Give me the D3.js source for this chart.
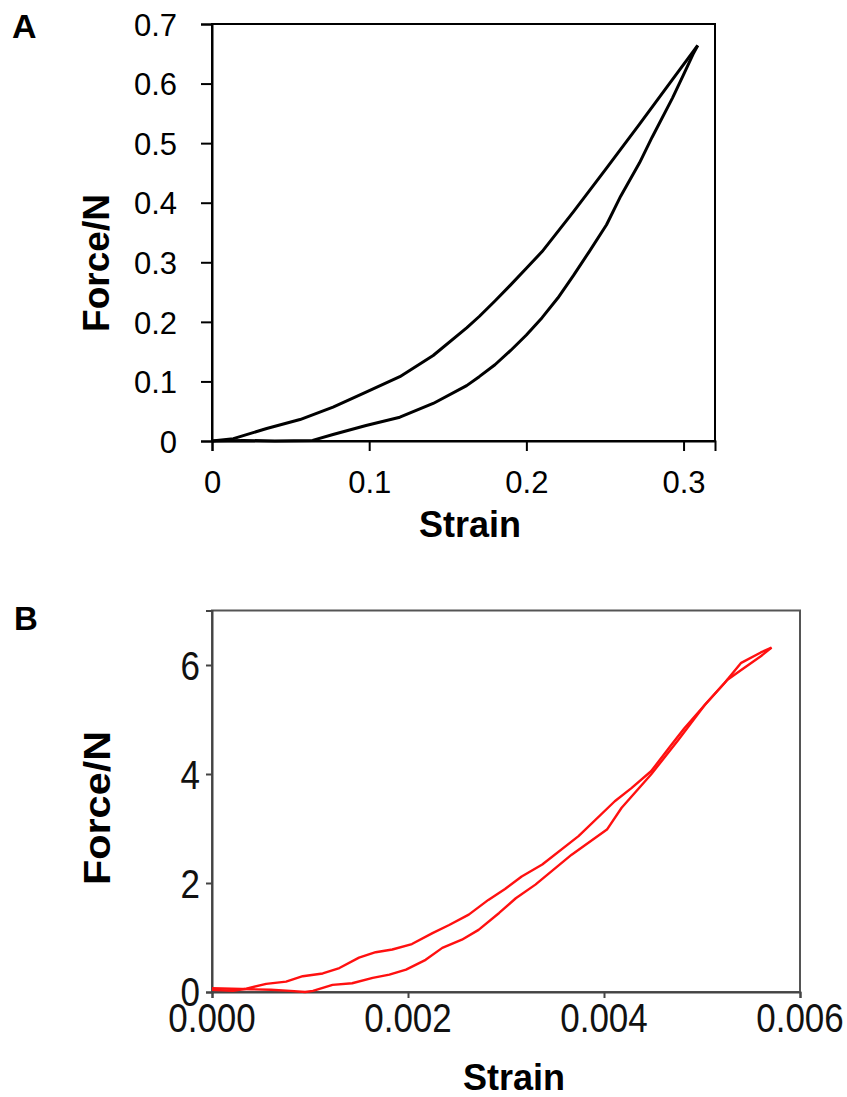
<!DOCTYPE html>
<html><head><meta charset="utf-8">
<script src="https://cdn.jsdelivr.net/npm/d3@7"></script>
<style>body{margin:0;background:#fff}svg{display:block}text{font-family:"Liberation Sans",Arial,sans-serif}</style>
</head><body><svg id="c" width="847" height="1097"></svg>
<script>
// Panel A data (black curves)
const strainAUpper = [0, 0.0136, 0.0348, 0.056, 0.077, 0.098, 0.1195, 0.1407, 0.162, 0.170, 0.18, 0.19, 0.20, 0.21, 0.23, 0.251, 0.272, 0.293, 0.309];
const forceAUpper  = [0, 0.004, 0.021, 0.036, 0.057, 0.082, 0.108, 0.1435, 0.190, 0.209, 0.235, 0.262, 0.290, 0.318, 0.385, 0.458, 0.532, 0.607, 0.664];
const strainALower = [0, 0.02, 0.04, 0.064, 0.077, 0.098, 0.1195, 0.1407, 0.162, 0.170, 0.18, 0.19, 0.20, 0.21, 0.22, 0.23, 0.24, 0.251, 0.26, 0.272, 0.28, 0.293, 0.30, 0.306, 0.309];
const forceALower  = [0, 0.001, 0.0, 0.001, 0.011, 0.026, 0.040, 0.063, 0.093, 0.108, 0.128, 0.152, 0.178, 0.207, 0.240, 0.278, 0.318, 0.363, 0.411, 0.467, 0.510, 0.576, 0.615, 0.649, 0.664];
const ticksAX = [0, 0.1, 0.2, 0.3];
const ticksAY = [0, 0.1, 0.2, 0.3, 0.4, 0.5, 0.6, 0.7];
const labelsAX = ["0", "0.1", "0.2", "0.3"];
const labelsAY = ["0", "0.1", "0.2", "0.3", "0.4", "0.5", "0.6", "0.7"];

// Panel B data (red curves)
const strainBUpper = [0, 0.000214, 0.00035, 0.000553, 0.000756, 0.000926, 0.00113, 0.0013, 0.0015, 0.00167, 0.00184, 0.00204, 0.00225, 0.00242, 0.00262, 0.00282, 0.00299, 0.00316, 0.00337, 0.00374, 0.00411, 0.00428, 0.00448, 0.00469, 0.00482, 0.00503, 0.00523, 0.0054, 0.0056, 0.00571];
const forceBUpper  = [0.04, 0.02, 0.06, 0.15, 0.19, 0.29, 0.34, 0.44, 0.63, 0.73, 0.78, 0.88, 1.08, 1.23, 1.42, 1.69, 1.89, 2.12, 2.34, 2.86, 3.50, 3.74, 4.05, 4.54, 4.84, 5.27, 5.67, 6.04, 6.23, 6.32];
const strainBLower = [0, 0.0002, 0.0004, 0.0006, 0.0008, 0.00095, 0.00103, 0.00123, 0.00143, 0.00164, 0.00181, 0.00198, 0.00218, 0.00235, 0.00255, 0.00272, 0.00293, 0.0031, 0.0033, 0.00367, 0.00403, 0.00418, 0.00448, 0.00476, 0.00503, 0.00526, 0.0054, 0.0056, 0.00571];
const forceBLower  = [0.07, 0.06, 0.05, 0.04, 0.02, 0.0, 0.02, 0.13, 0.16, 0.26, 0.32, 0.41, 0.59, 0.81, 0.96, 1.14, 1.45, 1.72, 1.97, 2.52, 2.98, 3.38, 3.99, 4.63, 5.27, 5.73, 5.91, 6.16, 6.32];
const ticksBX = [0, 0.002, 0.004, 0.006];
const ticksBY = [0, 2, 4, 6];
const labelsBX = ["0.000", "0.002", "0.004", "0.006"];
const labelsBY = ["0", "2", "4", "6"];

const svg = d3.select("#c");
svg.append("rect").attr("width",847).attr("height",1097).attr("fill","#fff");
const zip = (xs, ys) => xs.map((x,i)=>[x, ys[i]]);

// ---------- Panel A ----------
const xA = d3.scaleLinear().domain([0, 0.32]).range([212, 715]);
const yA = d3.scaleLinear().domain([0, 0.7]).range([441, 24]);
const gA = svg.append("g");
gA.append("rect").attr("x", xA(0)).attr("y", yA(0.7)).attr("width", xA(0.32)-xA(0)).attr("height", yA(0)-yA(0.7))
  .attr("fill","none").attr("stroke","#000").attr("stroke-width",2);
const axAx = gA.append("g").attr("transform",`translate(0,${yA(0)})`)
  .call(d3.axisBottom(xA).tickValues(ticksAX).tickSize(10).tickFormat((d,i)=>labelsAX[i]));
const axAy = gA.append("g").attr("transform",`translate(${xA(0)},0)`)
  .call(d3.axisLeft(yA).tickValues(ticksAY).tickSize(11).tickFormat((d,i)=>labelsAY[i]));
[axAx, axAy].forEach(a=>{
  a.select(".domain").attr("stroke","#000").attr("stroke-width",2);
  a.selectAll(".tick line").attr("stroke","#000").attr("stroke-width",2);
  a.selectAll("text").attr("font-size",31).attr("fill","#000").attr("font-family",'"Liberation Sans",Arial,sans-serif');
});
axAy.selectAll(".tick text").attr("x",-35).attr("dy","0.36em");
axAx.selectAll(".tick text").attr("y",52).attr("dy",0);
const lineA = d3.line().x(d=>xA(d[0])).y(d=>yA(d[1]));
[zip(strainAUpper, forceAUpper), zip(strainALower, forceALower)].forEach(dat=>{
  gA.append("path").datum(dat).attr("d", lineA).attr("fill","none").attr("stroke","#000").attr("stroke-width",3).attr("stroke-linejoin","round");
});
svg.append("text").attr("x",12).attr("y",38).attr("font-size",34).attr("font-weight","bold").text("A");
svg.append("text").attr("transform","translate(109,263) rotate(-90)").attr("text-anchor","middle")
  .attr("font-size",37).attr("font-weight","bold").text("Force/N");
svg.append("text").attr("x",470).attr("y",537).attr("text-anchor","middle")
  .attr("font-size",36).attr("font-weight","bold").text("Strain");

// ---------- Panel B ----------
const xB = d3.scaleLinear().domain([0, 0.006]).range([212, 800]);
const yB = d3.scaleLinear().domain([0, 7]).range([992, 610.5]);
const gB = svg.append("g");
gB.append("rect").attr("x", xB(0)).attr("y", yB(7)).attr("width", xB(0.006)-xB(0)).attr("height", yB(0)-yB(7))
  .attr("fill","none").attr("stroke","#555").attr("stroke-width",2);
const axBx = gB.append("g").attr("transform",`translate(0,${yB(0)})`)
  .call(d3.axisBottom(xB).tickValues(ticksBX).tickSize(6).tickFormat(""));
const axBy = gB.append("g").attr("transform",`translate(${xB(0)},0)`)
  .call(d3.axisLeft(yB).tickValues(ticksBY).tickSize(6).tickFormat(""));
[axBx, axBy].forEach(a=>{
  a.select(".domain").attr("stroke","#444").attr("stroke-width",2);
  a.selectAll(".tick line").attr("stroke","#444").attr("stroke-width",2);
});
const lineB = d3.line().x(d=>xB(d[0])).y(d=>yB(d[1]));
[zip(strainBUpper, forceBUpper), zip(strainBLower, forceBLower)].forEach(dat=>{
  gB.append("path").datum(dat).attr("d", lineB).attr("fill","none").attr("stroke","#ff1010").attr("stroke-width",2.4).attr("stroke-linejoin","round");
});
const sY = 1.18;
ticksBY.forEach((v,i)=>{
  svg.append("text").attr("transform",`translate(200,${yB(v) - (i===0 ? 1 : 0)}) scale(1,${sY})`)
    .attr("text-anchor","end").attr("dy","0.36em").attr("font-size",35).attr("fill","#111").text(labelsBY[i]);
});
ticksBX.forEach((v,i)=>{
  svg.append("text").attr("transform",`translate(${xB(v)},1032) scale(1,${sY})`)
    .attr("text-anchor","middle").attr("font-size",35).attr("fill","#111").text(labelsBX[i]);
});
svg.append("text").attr("x",14).attr("y",630).attr("font-size",33).attr("font-weight","bold").text("B");
svg.append("text").attr("transform","translate(110,808) rotate(-90) scale(1.12,1)").attr("text-anchor","middle")
  .attr("font-size",37).attr("font-weight","bold").text("Force/N");
svg.append("text").attr("x",514).attr("y",1090).attr("text-anchor","middle")
  .attr("font-size",36).attr("font-weight","bold").text("Strain");
</script></body></html>
